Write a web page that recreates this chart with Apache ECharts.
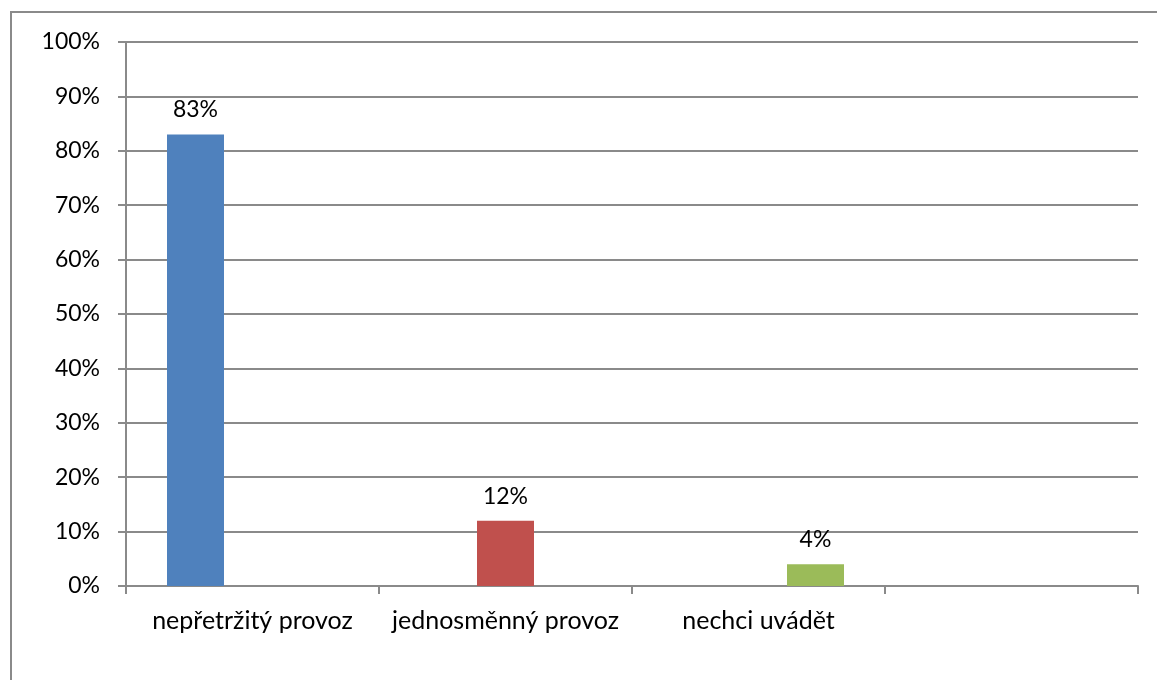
<!DOCTYPE html>
<html>
<head>
<meta charset="utf-8">
<style>
  html, body { margin: 0; padding: 0; background: #ffffff; }
  #chart { width: 1157px; height: 680px; }
</style>
<script src="https://cdn.jsdelivr.net/npm/echarts@6/dist/echarts.min.js"></script>
</head>
<body>
<div id="chart"></div>
<script>
// Categories (the fourth slot is intentionally blank)
const categories = ['nepřetržitý provoz', 'jednosměnný provoz', 'nechci uvádět', ''];
// Share of respondents per answer, in percent
const seriesNames = ['nepřetržitý provoz', 'jednosměnný provoz', 'nechci uvádět'];
const valuesNepretrzity = [83, null, null, null];
const valuesJednosmenny = [null, 12, null, null];
const valuesNechci = [null, null, 4, null];
const seriesColors = ['#4F81BD', '#C0504D', '#9BBB59'];
const yTicks = [0, 10, 20, 30, 40, 50, 60, 70, 80, 90, 100];

const FONT = 'Lato';
const GRAY = '#8a8a8a';

const chart = echarts.init(document.getElementById('chart'), null, { renderer: 'canvas' });

function barSeries(name, data, color) {
  return {
    name: name,
    type: 'bar',
    data: data,
    barWidth: 57,
    barGap: '0%',
    itemStyle: { color: color },
    label: {
      show: true,
      position: 'top',
      distance: 13,
      fontFamily: FONT,
      fontSize: 23,
      color: '#000000',
      formatter: p => p.value + '%'
    },
    animation: false
  };
}

chart.setOption({
  animation: false,
  backgroundColor: '#ffffff',
  graphic: [{
    type: 'rect',
    shape: { x: 11, y: 12, width: 1160, height: 700 },
    style: { fill: 'none', stroke: GRAY, lineWidth: 2 },
    silent: true
  }],
  grid: { left: 126, right: 19, top: 42, bottom: 94, containLabel: false },
  xAxis: {
    type: 'category',
    data: categories,
    axisLine: { show: true, lineStyle: { color: GRAY, width: 2 } },
    axisTick: { show: true, length: 8, lineStyle: { color: GRAY, width: 2 } },
    axisLabel: { margin: 22, fontFamily: FONT, fontSize: 25, color: '#000000', interval: 0 },
    splitLine: { show: false }
  },
  yAxis: {
    type: 'value',
    min: 0,
    max: 100,
    interval: 10,
    axisLine: { show: true, lineStyle: { color: GRAY, width: 2 } },
    axisTick: { show: true, length: 8, lineStyle: { color: GRAY, width: 2 } },
    axisLabel: {
      margin: 26,
      fontFamily: FONT,
      fontSize: 23,
      color: '#000000',
      formatter: v => (yTicks.includes(v) ? v + '%' : '')
    },
    splitLine: { show: true, lineStyle: { color: GRAY, width: 2 } }
  },
  series: [
    barSeries(seriesNames[0], valuesNepretrzity, seriesColors[0]),
    barSeries(seriesNames[1], valuesJednosmenny, seriesColors[1]),
    barSeries(seriesNames[2], valuesNechci, seriesColors[2])
  ]
});
</script>
</body>
</html>
